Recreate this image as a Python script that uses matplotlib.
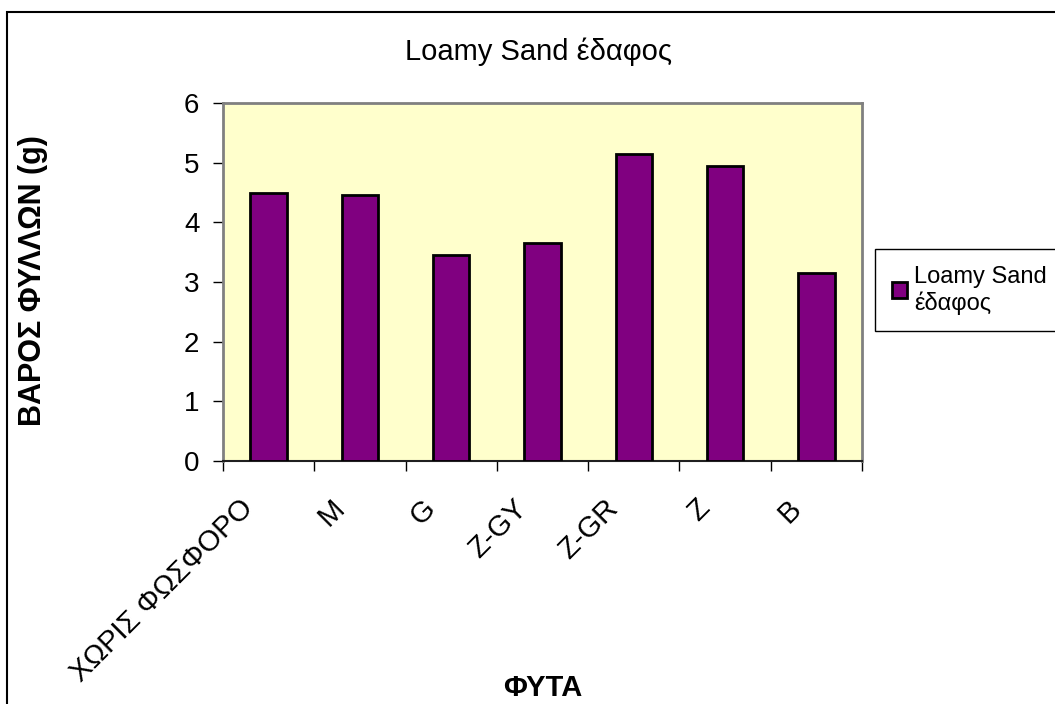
import matplotlib.pyplot as plt
from matplotlib.patches import Rectangle
from matplotlib.transforms import ScaledTranslation

plt.rcParams['font.family'] = ['Liberation Sans', 'DejaVu Sans']

# data
categories = ['ΧΩΡΙΣ ΦΩΣΦΟΡΟ', 'M', 'G', 'Z-GY', 'Z-GR', 'Z', 'B']
values = [4.5, 4.45, 3.45, 3.65, 5.15, 4.95, 3.15]
series_name = 'Loamy Sand\nέδαφος'

W, H = 1055, 704
fig = plt.figure(figsize=(W / 100, H / 100), dpi=100)
ax = fig.add_axes([223 / W, 1 - 461 / H, (862 - 223) / W, (461 - 103) / H])
ax.set_facecolor('#FFFFCC')

x = list(range(len(categories)))
ax.bar(x, values, width=0.4, color='#800080', edgecolor='black', linewidth=2,
       label=series_name, zorder=3)

ax.set_xlim(-0.5, len(categories) - 0.5)
ax.set_ylim(0, 6)
ax.set_yticks(range(0, 7))
ax.tick_params(axis='y', labelsize=20, length=7, width=1, direction='out', pad=10)

# category labels near the bars, ticks on category boundaries
ax.set_xticks(x)
ax.set_xticklabels(categories, rotation=45, ha='right', va='top', fontsize=21)
ax.tick_params(axis='x', which='major', length=0, pad=24)
shift = ScaledTranslation(-10 / 100, 0, fig.dpi_scale_trans)
for lbl in ax.get_xticklabels():
    lbl.set_transform(lbl.get_transform() + shift)
ax.set_xticks([i - 0.5 for i in range(len(categories) + 1)], minor=True)
ax.tick_params(axis='x', which='minor', length=7, width=1, direction='out')

for side in ['top', 'right', 'left']:
    ax.spines[side].set_color('#808080')
    ax.spines[side].set_linewidth(2)
ax.spines['bottom'].set_color('#202020')
ax.spines['bottom'].set_linewidth(1.5)

fig.text(33 / W, 1 - 281 / H, 'ΒΑΡΟΣ ΦΥΛΛΩΝ (g)', fontsize=22, fontweight='bold',
         rotation=90, ha='center', va='center')
fig.text(543 / W, 1 - 688 / H, 'ΦΥΤΑ', fontsize=21, fontweight='bold',
         ha='center', va='center')
fig.text(539 / W, 1 - 52 / H, 'Loamy Sand έδαφος', fontsize=21,
         ha='center', va='center')

leg = fig.legend(loc='upper left', bbox_to_anchor=(875 / W, 1 - 249 / H),
                 fontsize=17, fancybox=False, edgecolor='black', framealpha=1,
                 handlelength=0.65, handleheight=0.65, handletextpad=0.3,
                 borderpad=0.7, borderaxespad=0, labelspacing=0.2)
leg.get_frame().set_linewidth(1)

# outer chart frame
fig.patches.append(Rectangle((7 / W, -0.05), 1.1, 1.05 - 12 / H,
                             transform=fig.transFigure, fill=False,
                             edgecolor='black', linewidth=1.5))

fig.savefig('out.png', dpi=100)
